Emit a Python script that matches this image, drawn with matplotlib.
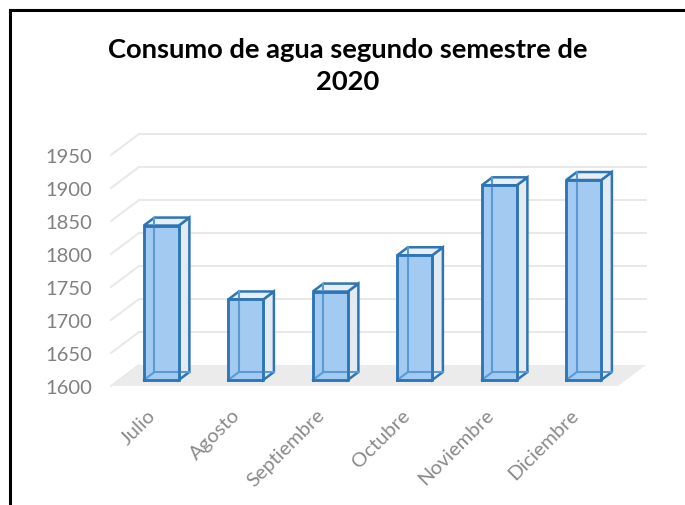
import numpy as np
import matplotlib.pyplot as plt
from matplotlib.lines import Line2D

# datos
meses = ['Julio', 'Agosto', 'Septiembre', 'Octubre', 'Noviembre', 'Diciembre']
consumo = [1834, 1722, 1734, 1789, 1895, 1903]
yticks = list(range(1600, 2000, 50))
titulo = 'Consumo de agua segundo semestre de\n2020'

plt.rcParams['font.family'] = ['Lato', 'DejaVu Sans']

fig = plt.figure(figsize=(6.85, 5.06), dpi=100)
# axes = front plane of the floor
ax = fig.add_axes([111/685, 1 - 387/506, 507/685, 231/506])
ax.set_xlim(-0.5, 5.5)
ax.set_ylim(1600, 1950)
for s in ax.spines.values():
    s.set_visible(False)

# oblique offsets for the full floor depth (data units)
ddx = 28 / 84.5
ddy = 21 / 0.66
f0 = 0.286          # bar front depth
fb = 0.38           # bar depth
bw = 0.414          # bar width
bdx, bdy = fb * ddx, fb * ddy

x = np.arange(len(meses))
y0 = yticks[0]

# floor
ax.fill([-0.5, 5.5, 5.5 + ddx, -0.5 + ddx], [y0, y0, y0 + ddy, y0 + ddy],
        color='#EBEBEB', lw=0, clip_on=False, zorder=1)

# walls gridlines
for v in yticks:
    ax.plot([-0.5, -0.5 + ddx], [v, v + ddy], color='#E8E8E8', lw=1.4,
            clip_on=False, zorder=0)
    if v > y0:
        ax.plot([-0.5 + ddx, 5.5 + ddx], [v + ddy, v + ddy], color='#E8E8E8',
                lw=1.4, clip_on=False, zorder=0)

edge = '#2E75B6'
xf = x + f0 * ddx
base = y0 + f0 * ddy
ax.bar(xf, np.array(consumo) - y0, bottom=base, width=bw, color='#A3CBF1',
       edgecolor=edge, lw=1.8, clip_on=False, zorder=3)

for xc, v in zip(xf, consumo):
    xl, xr = xc - bw / 2, xc + bw / 2
    top = v + f0 * ddy
    # side and top faces
    ax.fill([xr, xr + bdx, xr + bdx, xr], [base, base + bdy, top + bdy, top],
            facecolor='#E4EAF1', edgecolor=edge, lw=1.8, clip_on=False, zorder=2)
    ax.fill([xl, xl + bdx, xr + bdx, xr], [top, top + bdy, top + bdy, top],
            facecolor='#E8EEF5', edgecolor=edge, lw=1.8, clip_on=False, zorder=2)
    # hidden back edges seen through the glass
    ax.plot([xl + bdx, xl + bdx], [base + bdy, top + bdy], color='#5B9BD5',
            lw=1.5, clip_on=False, zorder=4)
    ax.plot([xl, xl + bdx, xr + bdx], [base, base + bdy, base + bdy],
            color='#5B9BD5', lw=1.5, clip_on=False, zorder=4)
    ax.plot([xl, xr, xr, xl, xl], [base, base, top, top, base], color=edge,
            lw=1.8, clip_on=False, zorder=5)

ax.set_yticks(yticks)
ax.tick_params(axis='y', length=0, pad=13.5, labelsize=14.5, labelcolor='#808080')

ax.set_xticks(x)
ax.set_xticklabels(meses)
ax.tick_params(axis='x', length=0, pad=18.5, labelsize=14.5, labelcolor='#8A8A8A')
for lab in ax.get_xticklabels():
    lab.set_rotation(45)
    lab.set_ha('right')
    lab.set_va('center')
    lab.set_rotation_mode('anchor')

fig.text(348/685, 1 - 66/506, titulo, ha='center', va='center',
         fontsize=19.7, fontweight='bold', color='black', linespacing=1.35)

# chart border (left and top)
fig.add_artist(Line2D([9.5/685, 9.5/685], [0, 1 - 11/506], color='black', lw=2.2))
fig.add_artist(Line2D([9.5/685, 1], [1 - 11/506, 1 - 11/506], color='black', lw=2.2))

fig.savefig('out.png', dpi=100)
